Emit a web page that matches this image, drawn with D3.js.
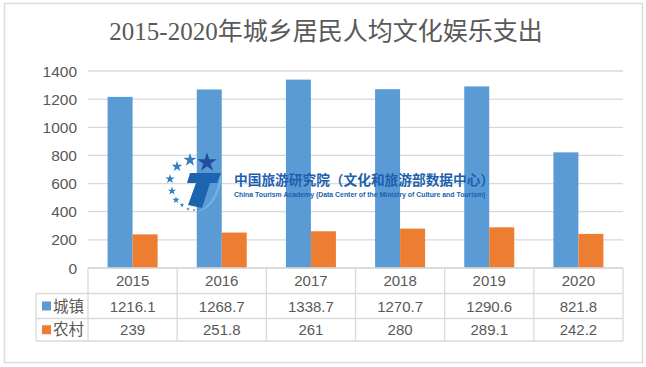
<!DOCTYPE html>
<html>
<head>
<meta charset="utf-8">
<script src="https://cdn.jsdelivr.net/npm/d3@7"></script>
<style>
html, body { margin: 0; padding: 0; background: #fff; }
svg { display: block; }
text { font-family: "Liberation Sans", Arial, sans-serif; fill: #595959; }
</style>
</head>
<body>
<div id="chart"></div>
<script>
var title = "2015-2020年城乡居民人均文化娱乐支出";
var years = ["2015", "2016", "2017", "2018", "2019", "2020"];
var seriesNames = ["城镇", "农村"];
var urban = [1216.1, 1268.7, 1338.7, 1270.7, 1290.6, 821.8];
var rural = [239, 251.8, 261, 280, 289.1, 242.2];
var yTicks = [0, 200, 400, 600, 800, 1000, 1200, 1400];
var colors = ["#5b9bd5", "#ed7d31"];

var width = 646, height = 367;
var plot = {left: 88, right: 623, top: 71, bottom: 268};
var tableRows = [268, 293.5, 318.5, 341];
var tableLeft = 36;
var grey = "#d9d9d9";

var svg = d3.select("#chart").append("svg")
    .attr("width", width)
    .attr("height", height);

// outer frame
svg.append("rect")
    .attr("x", 4.5).attr("y", 3.5)
    .attr("width", 638).attr("height", 359)
    .attr("fill", "#fff")
    .attr("stroke", "#dcdcdc")
    .attr("stroke-width", 1.5);

svg.append("text")
    .attr("x", 326).attr("y", 40)
    .attr("text-anchor", "middle")
    .style("font-family", "'Liberation Serif', 'Noto Sans CJK SC', serif")
    .style("font-size", "25px")
    .text(title);

var x = d3.scaleBand().domain(years).range([plot.left, plot.right]);
var y = d3.scaleLinear().domain([0, 1400]).range([plot.bottom, plot.top]);
var barW = 25;

// gridlines
svg.append("g").selectAll("line")
    .data(yTicks)
    .enter().append("line")
    .attr("x1", plot.left).attr("x2", plot.right)
    .attr("y1", function(d) { return y(d); })
    .attr("y2", function(d) { return y(d); })
    .attr("stroke", grey)
    .attr("stroke-width", 1.3);

// y axis labels
svg.append("g").selectAll("text")
    .data(yTicks)
    .enter().append("text")
    .attr("x", 77)
    .attr("y", function(d) { return y(d) + 5.5; })
    .attr("text-anchor", "end")
    .style("font-size", "15.5px")
    .text(function(d) { return d; });

// bars
[urban, rural].forEach(function(vals, s) {
  svg.append("g").selectAll("rect")
      .data(vals)
      .enter().append("rect")
      .attr("x", function(d, i) { return x(years[i]) + x.bandwidth() / 2 - barW + s * barW; })
      .attr("y", function(d) { return y(d); })
      .attr("width", barW)
      .attr("height", function(d) { return y(0) - y(d); })
      .attr("fill", colors[s]);
});

// data table
var tbl = svg.append("g").attr("stroke", grey).attr("stroke-width", 1.3);
tbl.append("line").attr("x1", plot.left).attr("x2", plot.right).attr("y1", tableRows[0]).attr("y2", tableRows[0]);
tableRows.slice(1).forEach(function(r) {
  tbl.append("line").attr("x1", tableLeft).attr("x2", plot.right).attr("y1", r).attr("y2", r);
});
years.forEach(function(yr) {
  tbl.append("line").attr("x1", x(yr)).attr("x2", x(yr)).attr("y1", tableRows[0]).attr("y2", tableRows[3]);
});
tbl.append("line").attr("x1", plot.right).attr("x2", plot.right).attr("y1", tableRows[0]).attr("y2", tableRows[3]);
tbl.append("line").attr("x1", tableLeft).attr("x2", tableLeft).attr("y1", tableRows[1]).attr("y2", tableRows[3]);

function cellText(sel, rowIdx) {
  sel.attr("x", function(d, i) { return x(years[i]) + x.bandwidth() / 2; })
     .attr("y", (tableRows[rowIdx] + tableRows[rowIdx + 1]) / 2 + 5.5)
     .attr("text-anchor", "middle")
     .style("font-size", "15px")
     .text(function(d) { return d; });
}
[years, urban, rural].forEach(function(vals, r) {
  svg.append("g").selectAll("text").data(vals).enter().append("text").call(cellText, r);
});

// legend keys in the table
seriesNames.forEach(function(name, s) {
  var mid = (tableRows[s + 1] + tableRows[s + 2]) / 2;
  svg.append("rect")
      .attr("x", 42).attr("y", mid - 4.5)
      .attr("width", 9).attr("height", 9)
      .attr("fill", colors[s]);
  svg.append("text")
      .attr("x", 53).attr("y", mid + 5.5)
      .style("font-family", "'Noto Sans CJK SC', sans-serif")
      .style("font-size", "15.5px")
      .text(name);
});

// watermark logo
var logo = svg.append("g");
var stars = [[207, 162.5, 8], [190, 160, 5.5], [177, 166.5, 4.5], [170, 179, 4], [172, 191, 3.5], [176, 200, 3], [182, 205, 2], [188, 209, 1.5], [194, 210, 1.2]];
logo.selectAll("path.star")
    .data(stars)
    .enter().append("path")
    .attr("class", "star")
    .attr("transform", function(d) { return "translate(" + d[0] + "," + d[1] + ")"; })
    .attr("d", function(d) {
      return d3.symbol().type(d3.symbolStar).size(d[2] * d[2] * 1.8)();
    })
    .attr("fill", function(d, i) { return i == 0 ? "#1f4e9e" : "#2f7fc1"; });
logo.append("path")
    .attr("d", "M190,173 L221,173 L217,183 L210,183 L202,208 L188,205 L196,183 L187,183 Z")
    .attr("fill", "#1c64b0");
logo.append("path")
    .attr("d", "M220,176 C217,194 209,208 196,212 C210,211 220,196 222,176 Z")
    .attr("fill", "#6fb3e0");

svg.append("text")
    .attr("x", 234).attr("y", 185)
    .style("font-family", "'Noto Sans CJK SC', sans-serif")
    .style("font-size", "13.7px")
    .style("font-weight", "700")
    .style("fill", "#1c5fae")
    .text("中国旅游研究院（文化和旅游部数据中心）");
svg.append("text")
    .attr("x", 234).attr("y", 197)
    .style("font-size", "6.9px")
    .style("font-weight", "700")
    .style("fill", "#1c5fae")
    .text("China Tourism Academy (Data Center of the Ministry of Culture and Tourism)");
</script>
</body>
</html>
